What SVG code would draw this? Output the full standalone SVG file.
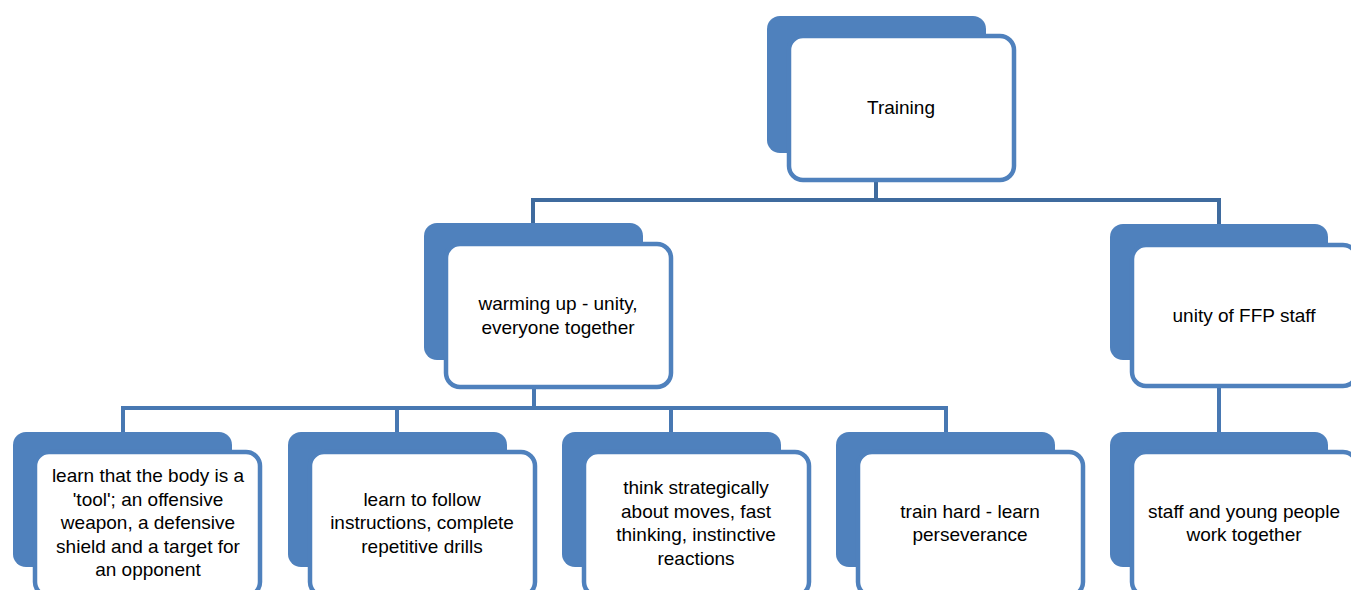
<svg xmlns="http://www.w3.org/2000/svg" width="1351" height="590" viewBox="0 0 1351 590">
<style>
.back{fill:#4F81BD;}
.front{fill:#FFFFFF;stroke:#4F81BD;stroke-width:4.5;}
.c1{stroke:#3F6B9E;stroke-width:4;fill:none;}
.c2{stroke:#4878B2;stroke-width:4;fill:none;}
text{font-family:"Liberation Sans",Arial,sans-serif;font-size:19px;fill:#000;text-anchor:middle;}
</style>
<rect width="1351" height="590" fill="#FFFFFF"/>
<g id="connectors">
<path class="c1" d="M876,182 V200 M533,200 H1219 M533,198 V224 M1219,198 V224"/>
<path class="c2" d="M534,389 V408 M123,408 H946 M123,406 V432 M397,406 V432 M671,406 V432 M946,406 V432"/>
<path class="c2" d="M1219,388 V432"/>
</g>
<g id="n-training">
<rect class="back" x="767" y="16" width="219" height="137" rx="13"/>
<rect class="front" x="789" y="36" width="225" height="144" rx="14"/>
<text x="901" y="114">Training</text>
</g>
<g id="n-warming">
<rect class="back" x="424" y="223" width="219" height="137" rx="13"/>
<rect class="front" x="446" y="244" width="225" height="143" rx="14"/>
<text x="558" y="310">warming up - unity,</text>
<text x="558" y="334">everyone together</text>
</g>
<g id="n-unity">
<rect class="back" x="1110" y="224" width="218" height="136" rx="13"/>
<rect class="front" x="1132" y="245" width="225" height="141" rx="14"/>
<text x="1244" y="322">unity of FFP staff</text>
</g>
<g id="n-body">
<rect class="back" x="13" y="432" width="219" height="135" rx="13"/>
<rect class="front" x="35" y="452" width="225" height="144" rx="14"/>
<text x="148" y="482">learn that the body is a</text>
<text x="148" y="506">'tool'; an offensive</text>
<text x="148" y="529">weapon, a defensive</text>
<text x="148" y="553">shield and a target for</text>
<text x="148" y="576">an opponent</text>
</g>
<g id="n-instructions">
<rect class="back" x="288" y="432" width="219" height="135" rx="13"/>
<rect class="front" x="310" y="452" width="225" height="144" rx="14"/>
<text x="422" y="506">learn to follow</text>
<text x="422" y="529">instructions, complete</text>
<text x="422" y="553">repetitive drills</text>
</g>
<g id="n-strategic">
<rect class="back" x="562" y="432" width="219" height="135" rx="13"/>
<rect class="front" x="584" y="452" width="225" height="144" rx="14"/>
<text x="696" y="494">think strategically</text>
<text x="696" y="518">about moves, fast</text>
<text x="696" y="541">thinking, instinctive</text>
<text x="696" y="565">reactions</text>
</g>
<g id="n-hard">
<rect class="back" x="836" y="432" width="219" height="135" rx="13"/>
<rect class="front" x="858" y="452" width="225" height="144" rx="14"/>
<text x="970" y="518">train hard - learn</text>
<text x="970" y="541">perseverance</text>
</g>
<g id="n-staff">
<rect class="back" x="1110" y="432" width="218" height="135" rx="13"/>
<rect class="front" x="1132" y="452" width="225" height="144" rx="14"/>
<text x="1244" y="518">staff and young people</text>
<text x="1244" y="541">work together</text>
</g>
</svg>
